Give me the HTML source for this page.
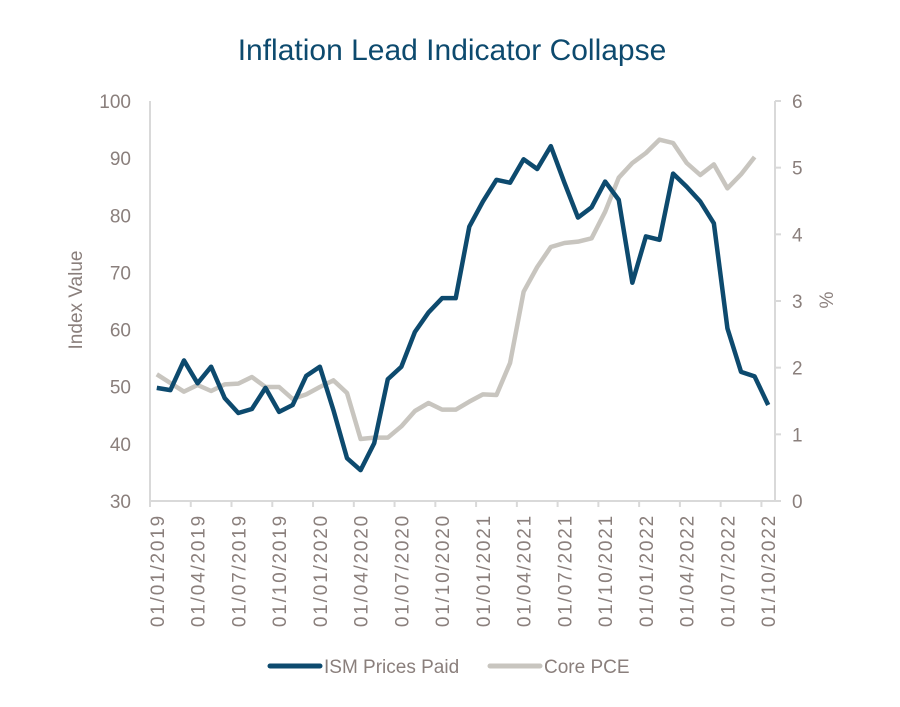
<!DOCTYPE html>
<html><head><meta charset="utf-8"><style>
body{margin:0;background:#fff;}
svg{display:block;font-family:"Liberation Sans",sans-serif;}
</style></head><body>
<svg id="chart" width="900" height="707">
<text x="452" y="60" text-anchor="middle" font-size="30" fill="#0d4a6e">Inflation Lead Indicator Collapse</text>
<g id="axes"></g>
<g id="series"></g>
<text transform="translate(82,300) rotate(-90)" text-anchor="middle" font-size="19" fill="#8a7f7c">Index Value</text>
<text transform="translate(833,300) rotate(-90)" text-anchor="middle" font-size="19" fill="#8a7f7c">%</text>
<g>
<line x1="270" y1="666" x2="320" y2="666" stroke="#0d4a6e" stroke-width="5" stroke-linecap="round"/>
<text x="324" y="673" font-size="19" fill="#8a7f7c">ISM Prices Paid</text>
<line x1="490" y1="666" x2="540" y2="666" stroke="#c8c5bf" stroke-width="5" stroke-linecap="round"/>
<text x="544" y="673" font-size="19" fill="#8a7f7c">Core PCE</text>
</g>
</svg>
<script>
const months = 46;
const ismValues = [49.8,49.4,54.6,50.6,53.5,48.0,45.4,46.1,49.8,45.6,46.8,51.9,53.5,45.9,37.5,35.4,40.1,51.3,53.5,59.6,63.0,65.5,65.5,78.0,82.4,86.2,85.7,89.8,88.1,92.1,85.7,79.6,81.4,85.9,82.7,68.2,76.3,75.7,87.3,85.0,82.4,78.6,60.2,52.6,51.8,46.8];
const pceValues = [1.90,1.77,1.64,1.74,1.65,1.75,1.76,1.86,1.71,1.71,1.53,1.60,1.71,1.81,1.62,0.93,0.95,0.95,1.12,1.35,1.47,1.37,1.37,1.49,1.60,1.59,2.07,3.14,3.51,3.81,3.87,3.89,3.94,4.34,4.85,5.07,5.22,5.42,5.37,5.07,4.89,5.05,4.69,4.90,5.16];
const leftTicks = [30,40,50,60,70,80,90,100];
const rightTicks = [0,1,2,3,4,5,6];
const xLabels = ["01/01/2019","01/04/2019","01/07/2019","01/10/2019","01/01/2020","01/04/2020","01/07/2020","01/10/2020","01/01/2021","01/04/2021","01/07/2021","01/10/2021","01/01/2022","01/04/2022","01/07/2022","01/10/2022"];

const NS="http://www.w3.org/2000/svg";
const X0=150,X1=775,Y0=501,Y1=101;
const step=(X1-X0)/months;
const xPos=i=>X0+step*(i+0.5);
const yL=v=>Y0-(v-30)/70*(Y0-Y1);
const yR=v=>Y0-v/6*(Y0-Y1);
const axes=document.getElementById('axes');
const series=document.getElementById('series');
function mk(tag,attrs,parent){const e=document.createElementNS(NS,tag);for(const k in attrs)e.setAttribute(k,attrs[k]);parent.appendChild(e);return e;}

const la=mk('line',{x1:X0,y1:Y1,x2:X0,y2:Y0,stroke:'#d9d9d9','stroke-width':2},axes);


const ra=mk('line',{x1:X1,y1:Y1,x2:X1,y2:Y0,stroke:'#d9d9d9','stroke-width':2},axes);


const xa=mk('line',{x1:X0,y1:Y0,x2:X1,y2:Y0,stroke:'#d9d9d9','stroke-width':2},axes);



leftTicks.forEach(v=>{
  const t=mk('text',{x:131,y:yL(v)+7,'text-anchor':'end','font-size':19,fill:'#8a7f7c'},axes);
  t.textContent=v;
  
  
});
rightTicks.forEach(v=>{
  const tk=mk('line',{x1:X1,x2:X1+6,y1:yR(v),y2:yR(v),stroke:'#d9d9d9','stroke-width':2},axes);
  
  
  const t=mk('text',{x:792,y:yR(v)+7,'font-size':19,fill:'#8a7f7c'},axes);
  t.textContent=v;
  
  
});
for(let i=0;i<=months;i+=3){
  const x=X0+step*i;
  const tk=mk('line',{x1:x,x2:x,y1:Y0,y2:Y0+6,stroke:'#d9d9d9','stroke-width':2},axes);
  
  
}
xLabels.forEach((lab,k)=>{
  const x=xPos(k*3)+7;
  const t=mk('text',{transform:`translate(${x},514) rotate(-90)`,'text-anchor':'end','font-size':19,'letter-spacing':'1.8',fill:'#8a7f7c'},axes);
  t.textContent=lab;
  
  
});

const pce=mk('polyline',{points:pceValues.map((v,i)=>xPos(i)+','+yR(v)).join(' '),fill:'none',stroke:'#c8c5bf','stroke-width':4.5,'stroke-linejoin':'round'},series);


const ism=mk('polyline',{points:ismValues.map((v,i)=>xPos(i)+','+yL(v)).join(' '),fill:'none',stroke:'#0d4a6e','stroke-width':4.5,'stroke-linejoin':'round'},series);


</script>
</body></html>
